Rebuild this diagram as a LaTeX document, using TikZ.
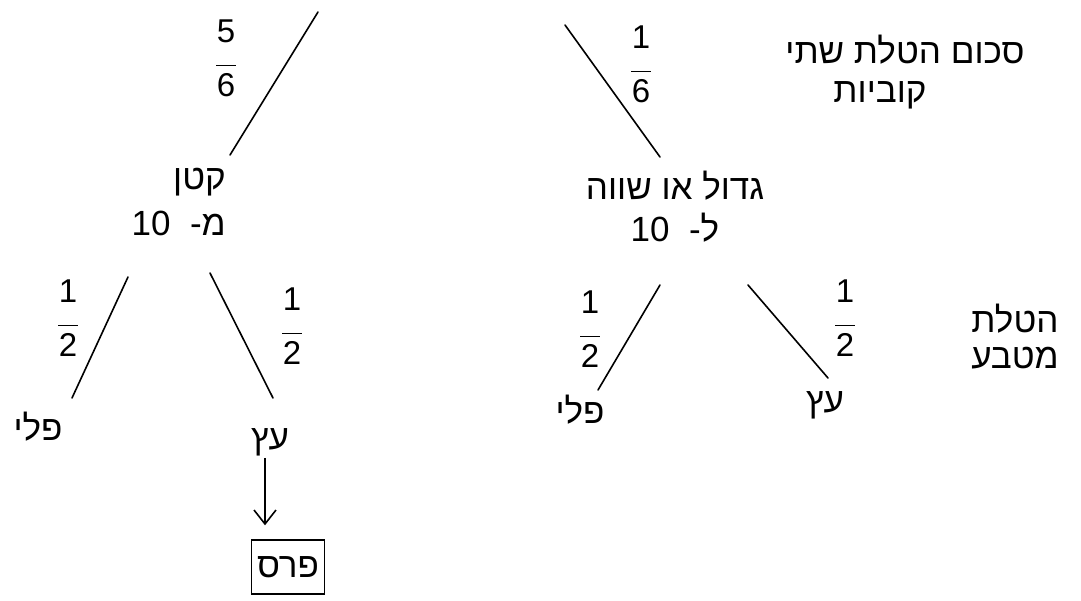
\documentclass[tikz,border=0pt]{standalone}
\usepackage{fontspec}
\setmainfont{Liberation Sans}
\newfontfamily\heb[Script=Hebrew]{Liberation Sans}
\TeXXeTstate=1
\usetikzlibrary{arrows.meta}
\newcommand{\myfrac}[2]{\begin{tabular}{@{}c@{}}#1\\[-12pt]\rule{20pt}{1.6pt}\\[-6pt]#2\end{tabular}}
\begin{document}
\begin{tikzpicture}[x=1pt,y=-1pt,
  heb/.style={font=\heb\fontsize{35}{42}\selectfont, inner sep=2pt},
  frac/.style={font=\fontsize{33}{36}\selectfont, inner sep=1pt},
  branch/.style={line width=1.6pt, line cap=round},
  arr/.style={line width=1.6pt, -{Straight Barb[length=14pt,width=22pt,line width=1.6pt]}}]
\useasboundingbox (0,0) rectangle (1081,600);
% top labels
\node[heb] (title) at (905,50) {\beginR סכום הטלת שתי\endR};
\node[heb] (title2) at (880,95) {\beginR קוביות\endR};
\node[heb, align=center] (coin) at (1015,337) {\beginR הטלת\endR\\[-6pt]\beginR מטבע\endR};
% first level nodes
\node[heb, align=right, anchor=north east] (lnode) at (228,166) {\beginR קטן\endR\\[4pt]\beginR מ-\ \ \beginL 10\endL\endR};
\node[heb, align=center] (rnode) at (675,207) {\beginR גדול או שווה\endR\\[0pt]\beginR ל-\ \ \beginL 10\endL\endR};
% leaves
\node[heb] (lp) at (38,427) {\beginR פלי\endR};
\node[heb] (le) at (270,442) {\beginR עץ\endR};
\node[heb] (rp) at (580,410) {\beginR פלי\endR};
\node[heb] (re) at (825,405) {\beginR עץ\endR};
\node[heb, draw, line width=1.4pt, minimum width=73pt, minimum height=54pt] (prize) at (288,567) {\beginR פרס\endR};
% connector ends
\coordinate (t1) at (318,12);
\coordinate (l1) at (230,155);
\coordinate (t2) at (565,25);
\coordinate (r1) at (660,157);
\coordinate (la) at (128,277);
\coordinate (lb) at (72,398);
\coordinate (lc) at (210,273);
\coordinate (ld) at (273,398);
\coordinate (ra) at (660,285);
\coordinate (rb) at (598,390);
\coordinate (rc) at (748,285);
\coordinate (rd) at (828,378);
\draw[branch] (t1) -- (l1);
\draw[branch] (t2) -- (r1);
\draw[branch] (la) -- (lb);
\draw[branch] (lc) -- (ld);
\draw[branch] (ra) -- (rb);
\draw[branch] (rc) -- (rd);
\draw[arr] ([xshift=-5pt]le.south) -- ([xshift=-23pt,yshift=14pt]prize.north);
% probabilities
\node[frac] (p1) at (226,62) {\myfrac{5}{6}};
\node[frac] (p2) at (641,68) {\myfrac{1}{6}};
\node[frac] (p3) at (68,322) {\myfrac{1}{2}};
\node[frac] (p4) at (292,330) {\myfrac{1}{2}};
\node[frac] (p5) at (590,333) {\myfrac{1}{2}};
\node[frac] (p6) at (845,322) {\myfrac{1}{2}};
\end{tikzpicture}
\end{document}
